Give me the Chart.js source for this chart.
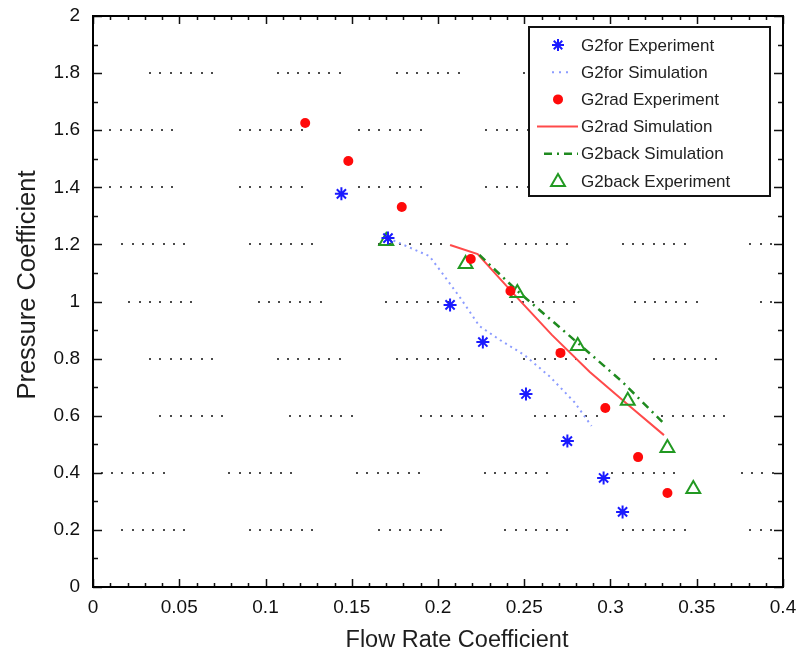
<!DOCTYPE html>
<html>
<head>
<meta charset="utf-8">
<script src="https://cdn.jsdelivr.net/npm/chart.js@4.4.1/dist/chart.umd.min.js"></script>
<style>
  html, body { margin: 0; padding: 0; background: #fff; }
  #wrap { width: 805px; height: 655px; }
</style>
</head>
<body>
<div id="wrap"><canvas id="chart" width="805" height="655"></canvas></div>
<script>
// tick positions / labels
const xTickValues = [0, 0.05, 0.1, 0.15, 0.2, 0.25, 0.3, 0.35, 0.4];
const xTickLabels = ["0", "0.05", "0.1", "0.15", "0.2", "0.25", "0.3", "0.35", "0.4"];
const yTickValues = [0, 0.2, 0.4, 0.6, 0.8, 1, 1.2, 1.4, 1.6, 1.8, 2];
const yTickLabels = ["0", "0.2", "0.4", "0.6", "0.8", "1", "1.2", "1.4", "1.6", "1.8", "2"];

// series
const forExpX = [0.144, 0.171, 0.207, 0.226, 0.251, 0.275, 0.296, 0.307];
const forExpY = [1.377, 1.222, 0.988, 0.858, 0.676, 0.511, 0.382, 0.263];
const forSimX = [0.171, 0.195, 0.202, 0.213, 0.224, 0.236, 0.250, 0.265, 0.279, 0.289];
const forSimY = [1.222, 1.159, 1.103, 1.012, 0.914, 0.865, 0.813, 0.736, 0.648, 0.564];
const radExpX = [0.123, 0.148, 0.179, 0.219, 0.242, 0.271, 0.297, 0.316, 0.333];
const radExpY = [1.625, 1.492, 1.331, 1.149, 1.037, 0.820, 0.627, 0.455, 0.329];
const radSimX = [0.207, 0.223, 0.244, 0.266, 0.288, 0.311, 0.331];
const radSimY = [1.198, 1.166, 1.026, 0.883, 0.753, 0.634, 0.532];
const backSimX = [0.224, 0.246, 0.281, 0.307, 0.330];
const backSimY = [1.163, 1.037, 0.855, 0.718, 0.578];
const backExpX = [0.170, 0.216, 0.246, 0.281, 0.310, 0.333, 0.348];
const backExpY = [1.212, 1.131, 1.030, 0.844, 0.652, 0.487, 0.343];

const pts = (xs, ys) => xs.map((x, i) => ({ x, y: ys[i] }));

// the broken dotted grid rows of the original (start of each 7-dot run, in x units)
const gridRows = [
  { y: 1.8, starts: [0.033, 0.107, 0.176, 0.250] },
  { y: 1.6, starts: [0.010, 0.085, 0.154, 0.228] },
  { y: 1.4, starts: [0.010, 0.085, 0.154, 0.228] },
  { y: 1.2, starts: [0.017, 0.091, 0.166, 0.239, 0.307, 0.381] },
  { y: 1.0, starts: [0.021, 0.096, 0.170, 0.243, 0.314, 0.387] },
  { y: 0.8, starts: [0.033, 0.107, 0.176, 0.250, 0.325] },
  { y: 0.6, starts: [0.039, 0.114, 0.190, 0.256, 0.330] },
  { y: 0.4, starts: [0.005, 0.079, 0.153, 0.227, 0.301, 0.376] },
  { y: 0.2, starts: [0.017, 0.091, 0.166, 0.239, 0.307, 0.381] },
];

const BLUE = "#1a1aff", RED = "#ff0a0a", REDLINE = "#ff4a4a", GREEN = "#229922", GREENLINE = "#1f8a1f", DOTBLUE = "#8c9cff";

function star(ctx, x, y, r) {
  ctx.beginPath();
  for (let k = 0; k < 4; k++) {
    const a = k * Math.PI / 4;
    ctx.moveTo(x - Math.cos(a) * r, y - Math.sin(a) * r);
    ctx.lineTo(x + Math.cos(a) * r, y + Math.sin(a) * r);
  }
  ctx.stroke();
}
function tri(ctx, x, y, r) {
  ctx.beginPath();
  for (let k = 0; k < 3; k++) {
    const a = k * 2 * Math.PI / 3;
    const px = x + Math.sin(a) * r, py = y - Math.cos(a) * r;
    k ? ctx.lineTo(px, py) : ctx.moveTo(px, py);
  }
  ctx.closePath();
  ctx.stroke();
}

const legendItems = [
  { text: "G2for Experiment", kind: "star" },
  { text: "G2for Simulation", kind: "dotline" },
  { text: "G2rad Experiment", kind: "dot" },
  { text: "G2rad Simulation", kind: "line" },
  { text: "G2back Simulation", kind: "dashdot" },
  { text: "G2back Experiment", kind: "tri" },
];

const matlabLook = {
  id: "matlabLook",
  beforeDatasetsDraw(chart) {
    const { ctx, chartArea: a, scales: { x, y } } = chart;
    ctx.save();
    ctx.fillStyle = "#4a4a4a";
    gridRows.forEach(row => {
      const py = Math.round(y.getPixelForValue(row.y));
      row.starts.forEach(s => {
        for (let k = 0; k < 7; k++) {
          const px = x.getPixelForValue(s + k * 0.006);
          if (px > a.left + 3 && px < a.right - 3) ctx.fillRect(Math.round(px) - 1, py - 1, 2, 2);
        }
      });
    });
    ctx.restore();
  },
  afterDraw(chart) {
    const { ctx, chartArea: a, scales: { x, y } } = chart;
    ctx.save();
    // ticks, inward on all four sides
    ctx.strokeStyle = "#111";
    ctx.lineWidth = 1.5;
    ctx.beginPath();
    for (let i = 0; i <= 40; i++) {
      const px = Math.round(x.getPixelForValue(i / 100)) + 0.5;
      const len = i % 5 === 0 ? 8 : 4;
      ctx.moveTo(px, a.bottom); ctx.lineTo(px, a.bottom - len);
      ctx.moveTo(px, a.top); ctx.lineTo(px, a.top + len);
    }
    for (let i = 0; i <= 20; i++) {
      const py = Math.round(y.getPixelForValue(i / 10)) + 0.5;
      const len = i % 2 === 0 ? 9 : 5;
      ctx.moveTo(a.left, py); ctx.lineTo(a.left + len, py);
      ctx.moveTo(a.right, py); ctx.lineTo(a.right - len, py);
    }
    ctx.stroke();
    // box
    ctx.lineWidth = 2;
    ctx.strokeStyle = "#000";
    ctx.strokeRect(a.left, a.top, a.right - a.left, a.bottom - a.top);

    // axis titles
    ctx.fillStyle = "#1e1e1e";
    ctx.textAlign = "center";
    ctx.textBaseline = "middle";
    ctx.font = '23.5px "Liberation Sans", Arial, sans-serif';
    ctx.fillText("Flow Rate Coefficient", 457, 641);
    ctx.save();
    ctx.translate(28, 285);
    ctx.rotate(-Math.PI / 2);
    ctx.font = '25.5px "Liberation Sans", Arial, sans-serif';
    ctx.fillText("Pressure Coefficient", 0, 0);
    ctx.restore();

    // legend
    const L = 529, T = 27, W = 241, H = 169;
    ctx.fillStyle = "#fff";
    ctx.fillRect(L, T, W, H);
    ctx.lineWidth = 2;
    ctx.strokeStyle = "#111";
    ctx.strokeRect(L, T, W, H);
    ctx.font = '17px "Liberation Sans", Arial, sans-serif';
    ctx.textAlign = "left";
    legendItems.forEach((it, i) => {
      const cy = 45 + i * 27.2;
      const cx = 558;
      ctx.save();
      if (it.kind === "star") { ctx.strokeStyle = BLUE; ctx.lineWidth = 2; star(ctx, cx, cy, 6); }
      if (it.kind === "dotline") {
        ctx.strokeStyle = DOTBLUE; ctx.lineWidth = 2; ctx.setLineDash([2, 5]);
        ctx.beginPath(); ctx.moveTo(552, cy); ctx.lineTo(572, cy); ctx.stroke();
      }
      if (it.kind === "dot") { ctx.fillStyle = RED; ctx.beginPath(); ctx.arc(cx, cy, 5, 0, Math.PI * 2); ctx.fill(); }
      if (it.kind === "line") {
        ctx.strokeStyle = REDLINE; ctx.lineWidth = 2;
        ctx.beginPath(); ctx.moveTo(537, cy); ctx.lineTo(578, cy); ctx.stroke();
      }
      if (it.kind === "dashdot") {
        ctx.strokeStyle = GREENLINE; ctx.lineWidth = 2.5; ctx.setLineDash([8, 5, 2, 5]);
        ctx.beginPath(); ctx.moveTo(544, cy); ctx.lineTo(578, cy); ctx.stroke();
      }
      if (it.kind === "tri") { ctx.strokeStyle = GREEN; ctx.lineWidth = 2; tri(ctx, cx, cy + 1, 8); }
      ctx.restore();
      ctx.fillStyle = "#222";
      ctx.textBaseline = "middle";
      ctx.fillText(it.text, 581, cy + 1);
    });
    ctx.restore();
  },
};

new Chart(document.getElementById("chart"), {
  type: "scatter",
  data: {
    datasets: [
      { label: "G2for Simulation", data: pts(forSimX, forSimY), showLine: true, borderColor: DOTBLUE,
        borderWidth: 2, borderDash: [2, 4], pointRadius: 0, fill: false, order: 5 },
      { label: "G2rad Simulation", data: pts(radSimX, radSimY), showLine: true, borderColor: REDLINE,
        borderWidth: 2, pointRadius: 0, fill: false, order: 4 },
      { label: "G2back Simulation", data: pts(backSimX, backSimY), showLine: true, borderColor: GREENLINE,
        borderWidth: 2.5, borderDash: [8, 5, 2, 5], pointRadius: 0, fill: false, order: 3 },
      { label: "G2back Experiment", data: pts(backExpX, backExpY), pointStyle: "triangle", pointRadius: 8,
        borderColor: GREEN, borderWidth: 2, backgroundColor: "rgba(0,0,0,0)", order: 2 },
      { label: "G2rad Experiment", data: pts(radExpX, radExpY), pointStyle: "circle", pointRadius: 5,
        borderWidth: 0, backgroundColor: RED, order: 1 },
      { label: "G2for Experiment", data: pts(forExpX, forExpY), pointStyle: "star", pointRadius: 6.5,
        borderColor: BLUE, borderWidth: 2, order: 0 },
    ],
  },
  options: {
    responsive: false,
    animation: false,
    devicePixelRatio: 1,
    layout: { padding: { top: 16, right: 22, left: 0, bottom: 0 } },
    plugins: { legend: { display: false }, tooltip: { enabled: false } },
    elements: { point: { hoverRadius: 0 } },
    scales: {
      x: {
        type: "linear", min: 0, max: 0.4,
        afterBuildTicks: s => { s.ticks = xTickValues.map(v => ({ value: v })); },
        afterFit: s => { s.height = 68; s.paddingLeft = 0; s.paddingRight = 0; },
        grid: { display: false, drawTicks: false },
        border: { display: false },
        ticks: { padding: 9, color: "#111", font: { family: '"Liberation Sans", Arial, sans-serif', size: 19 },
          callback: (v, i) => xTickLabels[i] },
      },
      y: {
        type: "linear", min: 0, max: 2,
        afterBuildTicks: s => { s.ticks = yTickValues.map(v => ({ value: v })); },
        afterFit: s => { s.width = 93; s.paddingTop = 0; s.paddingBottom = 0; },
        grid: { display: false, drawTicks: false },
        border: { display: false },
        ticks: { padding: 13, color: "#111", font: { family: '"Liberation Sans", Arial, sans-serif', size: 19 },
          callback: (v, i) => yTickLabels[i] },
      },
    },
  },
  plugins: [matlabLook],
});
</script>
</body>
</html>
